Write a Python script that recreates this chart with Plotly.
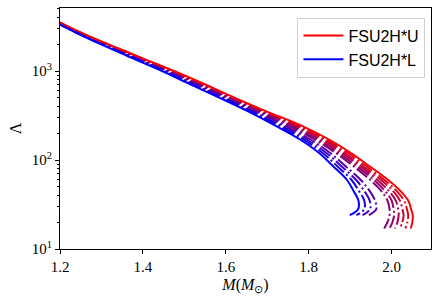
import plotly.graph_objects as go

# Tidal deformability grid (shared by all curves; each curve ends where its list ends)
LAMBDA = [3600, 2500, 1500, 1000, 700, 500, 350, 250, 170, 120, 85, 60, 45, 35, 28, 24, 20, 17]

# Masses (M_sun) at each Lambda; t = colour position red(0) -> blue(1)
M_RED = [1.195, 1.267, 1.382, 1.475, 1.552, 1.622, 1.699, 1.777, 1.849, 1.902, 1.947, 1.991, 2.021, 2.040, 2.047, 2.051, 2.050, 2.046]
M_T10 = [1.194, 1.266, 1.380, 1.472, 1.549, 1.618, 1.695, 1.771, 1.842, 1.895, 1.939, 1.982, 2.012, 2.030, 2.037, 2.040, 2.038, 2.033]
M_T20 = [1.193, 1.264, 1.377, 1.469, 1.545, 1.615, 1.690, 1.765, 1.835, 1.887, 1.931, 1.974, 2.003, 2.020, 2.026, 2.029, 2.026, 2.020]
M_T30 = [1.192, 1.263, 1.375, 1.466, 1.542, 1.611, 1.686, 1.758, 1.828, 1.880, 1.924, 1.965, 1.993, 2.010, 2.016, 2.017, 2.014, 2.008]
M_T40 = [1.191, 1.261, 1.373, 1.463, 1.538, 1.607, 1.681, 1.752, 1.821, 1.872, 1.916, 1.957, 1.984, 2.000, 2.005, 2.006, 2.002, 1.995]
M_T50 = [1.190, 1.260, 1.371, 1.461, 1.535, 1.604, 1.677, 1.746, 1.814, 1.865, 1.908, 1.948, 1.975, 1.990, 1.995, 1.995, 1.990, 1.982]
M_T65 = [1.189, 1.258, 1.367, 1.456, 1.529, 1.598, 1.670, 1.737, 1.804, 1.852, 1.889, 1.925, 1.947, 1.960, 1.963, 1.945]
M_T77 = [1.187, 1.256, 1.364, 1.453, 1.525, 1.594, 1.665, 1.729, 1.795, 1.843, 1.879, 1.914, 1.934, 1.947, 1.948, 1.930]
M_T88 = [1.186, 1.255, 1.362, 1.449, 1.521, 1.589, 1.660, 1.722, 1.787, 1.834, 1.869, 1.903, 1.921, 1.934, 1.934, 1.915]
M_BLUE = [1.185, 1.253, 1.359, 1.446, 1.517, 1.585, 1.655, 1.715, 1.779, 1.825, 1.859, 1.892, 1.908, 1.920, 1.919, 1.899]

MID_CURVES = [(0.1, M_T10), (0.2, M_T20), (0.3, M_T30), (0.4, M_T40), (0.5, M_T50),
              (0.65, M_T65), (0.77, M_T77), (0.88, M_T88)]

X_TICKS = [1.2, 1.4, 1.6, 1.8, 2.0]
X_TICKTEXT = ["1.2", "1.4", "1.6", "1.8", "2.0"]
Y_TICKS = [10, 100, 1000]
Y_TICKTEXT = ["10<sup>1</sup>", "10<sup>2</sup>", "10<sup>3</sup>"]


def col(t):
    return f"rgb({round(255*(1-t))},0,{round(255*t)})"


fig = go.Figure()
for t, m in MID_CURVES:
    fig.add_trace(go.Scatter(x=m, y=LAMBDA[:len(m)], mode="lines", showlegend=False,
                             line=dict(color=col(t), width=2, dash="13px,3px,2px,3px", shape="spline"),
                             hoverinfo="skip"))
fig.add_trace(go.Scatter(x=M_RED, y=LAMBDA[:len(M_RED)], mode="lines", name="FSU2H*U",
                         line=dict(color="rgb(255,0,0)", width=2, shape="spline")))
fig.add_trace(go.Scatter(x=M_BLUE, y=LAMBDA[:len(M_BLUE)], mode="lines", name="FSU2H*L",
                         line=dict(color="rgb(0,0,255)", width=2, shape="spline")))

serif = "Liberation Serif"
fig.update_layout(
    width=440, height=304,
    margin=dict(l=60, r=9, t=8, b=55),
    paper_bgcolor="white", plot_bgcolor="white",
    font=dict(family=serif, size=15, color="black"),
    legend=dict(x=0.985, y=0.96, xanchor="right", yanchor="top",
                bgcolor="rgba(255,255,255,0.9)", bordercolor="#d0d0d0", borderwidth=1,
                font=dict(family="Liberation Sans", size=16, color="black"),
                itemwidth=40, tracegroupgap=2),
    xaxis=dict(range=[1.2, 2.095], tickvals=X_TICKS, ticktext=X_TICKTEXT,
               ticks="outside", ticklen=4, tickcolor="black",
               showline=True, linecolor="black", linewidth=1, mirror=True,
               showgrid=False, zeroline=False,
               title=dict(text="<i>M</i>(<i>M</i><sub>⊙</sub>)", standoff=4,
                          font=dict(family=serif, size=16))),
    yaxis=dict(type="log", range=[1, 3.708], tickvals=Y_TICKS, ticktext=Y_TICKTEXT,
               ticks="outside", ticklen=4, tickcolor="black",
               minor=dict(ticks="outside", ticklen=2, tickcolor="black", dtick="D1", showgrid=False),
               showline=True, linecolor="black", linewidth=1, mirror=True,
               showgrid=False, zeroline=False,
               title=dict(text="Λ", standoff=6, font=dict(family=serif, size=16))),
)

fig.write_html("out.html", config={"displayModeBar": False},
               post_script="document.body.style.margin='0';document.body.style.overflow='hidden';")
